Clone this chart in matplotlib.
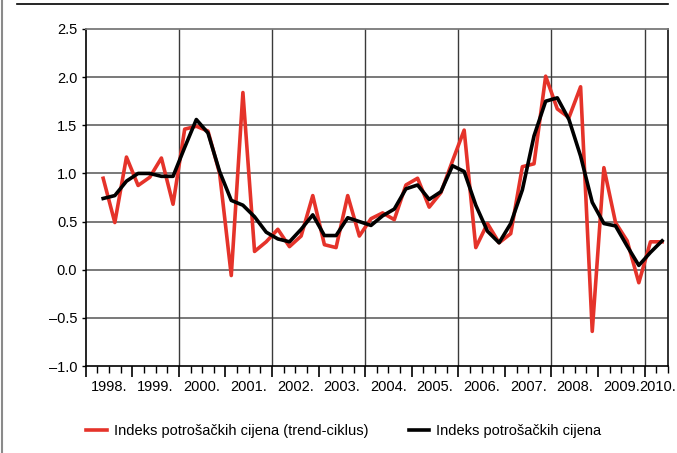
#!/usr/bin/env python3
"""Indeks potrosackih cijena, quarterly changes 1998-2010."""

import matplotlib
matplotlib.use("Agg")
import matplotlib.pyplot as plt
from matplotlib.lines import Line2D
from matplotlib.ticker import FuncFormatter
import numpy as np

# quarterly observations, first point in 1998 Q2
start_year = 1998.375
red_vals = [0.95, 0.49, 1.17, 0.875, 0.96, 1.16, 0.68, 1.46, 1.49, 1.44,
            1.00, -0.06, 1.84, 0.19, 0.29, 0.42, 0.24, 0.35, 0.77, 0.26,
            0.23, 0.77, 0.35, 0.53, 0.59, 0.52, 0.88, 0.95, 0.65, 0.80,
            1.13, 1.45, 0.23, 0.48, 0.28, 0.375, 1.07, 1.10, 2.01, 1.67,
            1.58, 1.90, -0.64, 1.06, 0.49, 0.30, -0.135, 0.29, 0.29]
black_vals = [0.74, 0.77, 0.92, 1.00, 1.00, 0.97, 0.97, 1.27, 1.56, 1.42,
              1.02, 0.72, 0.67, 0.55, 0.39, 0.32, 0.29, 0.42, 0.57, 0.355,
              0.355, 0.54, 0.50, 0.46, 0.56, 0.63, 0.84, 0.88, 0.73, 0.81,
              1.08, 1.02, 0.67, 0.40, 0.28, 0.48, 0.83, 1.39, 1.75, 1.785,
              1.56, 1.18, 0.70, 0.48, 0.455, 0.245, 0.045, 0.18, 0.30]
years = list(range(1998, 2011))
year_labels = [f"{y}." for y in years]
red_label = "Indeks potrošačkih cijena (trend-ciklus)"
black_label = "Indeks potrošačkih cijena"

plt.rcParams["font.family"] = ["Liberation Sans", "DejaVu Sans"]

fig = plt.figure(figsize=(6.77, 4.53), dpi=100)
ax = fig.add_axes([0.1266, 0.192, 0.86, 0.744])

t = start_year + 0.25 * np.arange(len(red_vals))
ax.plot(t, red_vals, color="#e5332a", linewidth=2.6, zorder=3, label=red_label)
ax.plot(t, black_vals, color="black", linewidth=2.6, zorder=4, label=black_label)

ax.set_xlim(1998, 2010.5)
ax.set_ylim(-1.0, 2.5)

# grid
for yv in np.arange(-0.5, 2.5, 0.5):
    ax.axhline(yv, color="#6e6e6e", linewidth=1.3, zorder=1)
for xv in range(2000, 2011, 2):
    ax.axvline(xv, color="#3a3a3a", linewidth=1.0, zorder=1)

ax.set_yticks(np.arange(-1.0, 2.51, 0.5))
ax.yaxis.set_major_formatter(
    FuncFormatter(lambda v, pos: f"{v:.1f}".replace("-", "\u2013")))
ax.tick_params(axis="y", length=3, width=1, labelsize=10.5, pad=3)

ax.set_xticks(years)
ax.set_xticklabels([])
ax.set_xticks(np.arange(1998, 2010.51, 0.25), minor=True)
ax.tick_params(axis="x", which="major", length=8, width=1.2)
ax.tick_params(axis="x", which="minor", length=5, width=1)

for y, lab in zip(years, year_labels):
    xc = y + 0.5 if y < 2010 else 2010.27
    ax.text(xc, -0.04, lab, transform=ax.get_xaxis_transform(),
            ha="center", va="top", fontsize=10.5)

for side in ["left", "bottom"]:
    ax.spines[side].set_color("black")
    ax.spines[side].set_linewidth(1.2)
ax.spines["top"].set_color("#7a7a7a")
ax.spines["top"].set_linewidth(1.3)
ax.spines["right"].set_color("#222222")
ax.spines["right"].set_linewidth(1.3)

handles = [Line2D([], [], color="#e5332a", linewidth=2.6),
           Line2D([], [], color="black", linewidth=2.6)]
fig.legend(handles, [red_label, black_label], loc="center left",
           bbox_to_anchor=(0.108, 0.048), ncol=2, frameon=False,
           fontsize=10.5, handlelength=1.4, handletextpad=0.5,
           columnspacing=2.75)

# page frame lines
fig.add_artist(Line2D([0.025, 0.987], [0.991, 0.991], color="black",
                      linewidth=1.2, transform=fig.transFigure))
fig.add_artist(Line2D([0.003, 0.003], [0, 1], color="#8a8a8a",
                      linewidth=1.5, transform=fig.transFigure))

fig.savefig("out.png", dpi=100)
